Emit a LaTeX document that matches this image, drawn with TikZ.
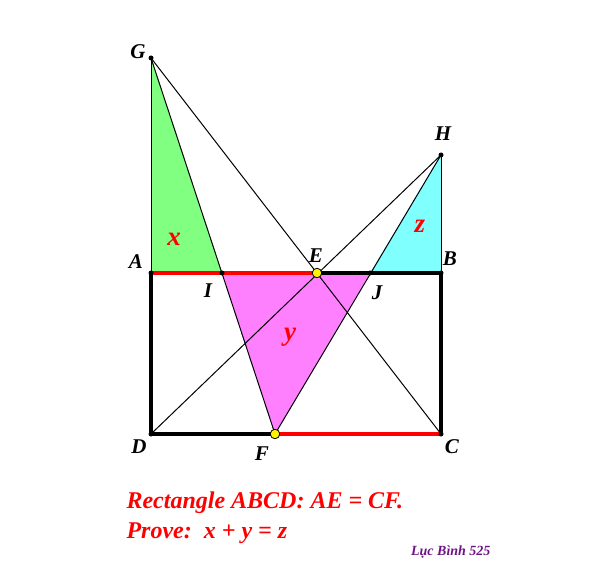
\documentclass[tikz,border=0pt]{standalone}
\usepackage{fontspec}
\setmainfont{Liberation Serif}
\definecolor{gfill}{RGB}{128,255,128}
\definecolor{mfill}{RGB}{255,128,255}
\definecolor{cfill}{RGB}{128,255,255}
\definecolor{purp}{RGB}{110,20,130}
\begin{document}
\begin{tikzpicture}[x=1pt,y=-1pt,
  lbl/.style={font=\fontsize{21}{24}\selectfont\bfseries\itshape},
  var/.style={font=\fontsize{27}{30}\selectfont\bfseries\itshape,text=red},
  thin/.style={line width=1pt,black},
  side/.style={line width=3.2pt,black},
  redside/.style={line width=3.2pt,red},
  dot/.style={circle,fill=black,inner sep=0pt,minimum size=5pt},
  ydot/.style={circle,fill=yellow,draw=black,line width=0.8pt,inner sep=0pt,minimum size=9.5pt}]
\useasboundingbox (0,0) rectangle (606,567);
\coordinate (A) at (151,273);
\coordinate (B) at (441,273);
\coordinate (C) at (441,434);
\coordinate (D) at (151,434);
\coordinate (E) at (317,273);
\coordinate (F) at (275,434);
\coordinate (G) at (151,58);
\coordinate (H) at (441,155);
\coordinate (I) at (222,273);
\coordinate (J) at (370,273);
% fills
\fill[gfill] (A) -- (G) -- (I) -- cycle;
\fill[mfill] (I) -- (J) -- (F) -- cycle;
\fill[cfill] (J) -- (H) -- (B) -- cycle;
% thin lines
\draw[thin] (G) -- (C);
\draw[thin] (D) -- (H);
\draw[thin] (G) -- (F);
\draw[thin] (F) -- (H);
\draw[thin] (G) -- (A);
\draw[thin] (H) -- (B);
% rectangle
\draw[side] (A) -- (D) -- (F);
\draw[side] (E) -- (B) -- (C);
\draw[redside] (A) -- (E);
\draw[redside] (F) -- (C);
% dots
\foreach \p in {A,B,C,D,G,H,I,J} \node[dot] at (\p) {};
\node[ydot] (e) at (E) {};
\node[ydot] (f) at (F) {};
% labels
\node[lbl] (lG) at (138,52) {G};
\node[lbl] (lH) at (443,134) {H};
\node[lbl] (lA) at (136,262) {A};
\node[lbl] (lB) at (450,259) {B};
\node[lbl] (lE) at (316,256) {E};
\node[lbl] (lI) at (208,291) {I};
\node[lbl] (lJ) at (377,293) {J};
\node[lbl] (lD) at (139,447) {D};
\node[lbl] (lF) at (262,454) {F};
\node[lbl] (lC) at (452,447) {C};
\node[var] (vx) at (174,239) {x};
\node[var] (vz) at (420,226) {z};
\node[var] (vy) at (290,337) {y};
\node[anchor=west,font=\fontsize{24}{27}\selectfont\bfseries\itshape,text=red] (t1) at (123,503) {Rectangle ABCD: AE = CF.};
\node[anchor=west,font=\fontsize{24}{27}\selectfont\bfseries\itshape,text=red] (t2) at (123,533) {Prove:\ \ x + y = z};
\node[anchor=east,font=\fontsize{14}{16}\selectfont\bfseries\itshape,text=purp] (t3) at (494,552) {Lục Bình 525};
\end{tikzpicture}
\end{document}
